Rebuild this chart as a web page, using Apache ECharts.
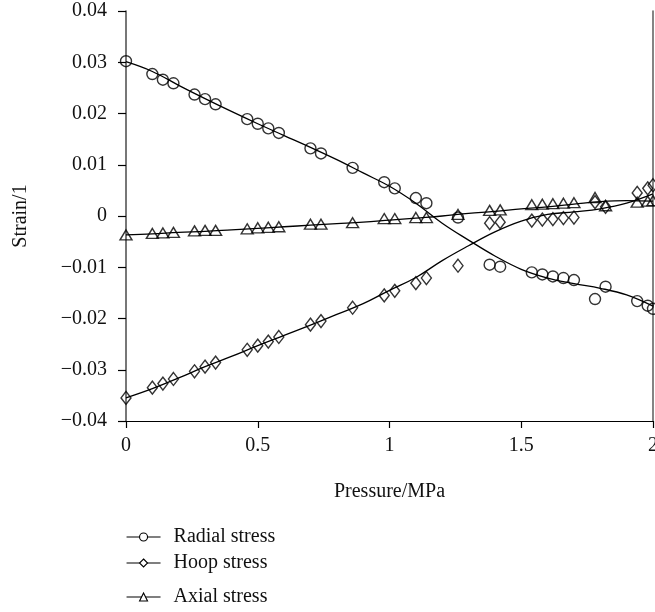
<!DOCTYPE html>
<html>
<head>
<meta charset="utf-8">
<script src="https://cdn.jsdelivr.net/npm/echarts@6/dist/echarts.min.js"></script>
<style>html,body{margin:0;padding:0;background:#fff;}#c{width:655px;height:612px;}</style>
</head>
<body>
<div id="c"></div>
<script>
// Measured points
const pressure = [0, 0.10, 0.14, 0.18, 0.26, 0.30, 0.34, 0.46, 0.50, 0.54, 0.58, 0.70, 0.74, 0.86, 0.98, 1.02, 1.10, 1.14, 1.26, 1.38, 1.42, 1.54, 1.58, 1.62, 1.66, 1.70, 1.78, 1.82, 1.94, 1.98, 2.00];
const radial = [0.0302, 0.0277, 0.0266, 0.0259, 0.0237, 0.0228, 0.0218, 0.0189, 0.0180, 0.0171, 0.0162, 0.0132, 0.0122, 0.0094, 0.0066, 0.0054, 0.0035, 0.0025, -0.0003, -0.0095, -0.0099, -0.0110, -0.0114, -0.0118, -0.0121, -0.0125, -0.0162, -0.0138, -0.0166, -0.0175, -0.0181];
const hoop = [-0.0355, -0.0335, -0.0327, -0.0318, -0.0303, -0.0294, -0.0286, -0.0261, -0.0253, -0.0245, -0.0236, -0.0212, -0.0205, -0.0179, -0.0155, -0.0146, -0.0131, -0.0121, -0.0097, -0.0014, -0.0012, -0.0009, -0.0007, -0.0006, -0.0004, -0.0003, 0.0027, 0.0018, 0.0045, 0.0054, 0.0060];
const axial = [-0.0037, -0.0034, -0.0033, -0.0032, -0.0029, -0.0028, -0.0028, -0.0025, -0.0023, -0.0022, -0.0021, -0.0016, -0.0016, -0.0013, -0.0005, -0.0005, -0.0003, -0.0003, 0.0003, 0.0011, 0.0012, 0.0022, 0.0023, 0.0024, 0.0025, 0.0026, 0.0036, 0.0020, 0.0027, 0.0029, 0.0030];

// Fitted curves
const curveX = [0, 0.1, 0.2, 0.3, 0.4, 0.5, 0.6, 0.7, 0.8, 0.9, 1.0, 1.1, 1.2, 1.3, 1.4, 1.5, 1.6, 1.7, 1.8, 1.9, 2.0];
const radialFit = [0.0301, 0.0282, 0.0255, 0.0229, 0.0204, 0.0180, 0.0157, 0.0134, 0.0110, 0.0084, 0.0058, 0.0025, -0.0014, -0.0047, -0.0078, -0.0104, -0.0121, -0.0132, -0.0141, -0.0154, -0.0176];
const hoopFit = [-0.0355, -0.0337, -0.0316, -0.0294, -0.0274, -0.0253, -0.0233, -0.0213, -0.0192, -0.0171, -0.0145, -0.0120, -0.0087, -0.0058, -0.0031, -0.0010, 0.0003, 0.0008, 0.0014, 0.0025, 0.0043];
const axialFit = [-0.0037, -0.0035, -0.0032, -0.0030, -0.0027, -0.0024, -0.0021, -0.0018, -0.0015, -0.0012, -0.0008, -0.0004, 0.0000, 0.0005, 0.0009, 0.0014, 0.0018, 0.0023, 0.0028, 0.0030, 0.0029];

const seriesNames = ['Radial stress', 'Hoop stress', 'Axial stress'];
const xTickLabels = ['0', '0.5', '1', '1.5', '2'];
const yTickLabels = ['\u22120.04', '\u22120.03', '\u22120.02', '\u22120.01', '0', '0.01', '0.02', '0.03', '0.04'];

const FONT = 'Liberation Serif';
const FS = 20;
const pair = (xs, ys) => xs.map((x, i) => [x, ys[i]]);

const markerStyle = { color: 'rgba(0,0,0,0)', borderColor: '#000', borderWidth: 1.4 };
function fitSeries(name, sym, ys) {
  return {
    type: 'line', name: name, data: pair(curveX, ys), smooth: 0.4,
    symbol: sym, showSymbol: false, silent: true, z: 2,
    lineStyle: { color: '#000', width: 1.3 },
    itemStyle: { color: '#fff', borderColor: '#000', borderWidth: 1 }
  };
}
function markSeries(name, sym, size, ys) {
  return {
    type: 'scatter', name: name + ' pts', data: pair(pressure, ys),
    symbol: sym, symbolSize: size, itemStyle: markerStyle, z: 3
  };
}
function legendFor(name, top) {
  return {
    data: [name], left: 126, top: top, orient: 'vertical', padding: 0,
    itemWidth: 34, itemHeight: 10, selectedMode: false,
    textStyle: { fontFamily: FONT, fontSize: FS, color: '#111', padding: [0, 0, 0, 8] },
    itemStyle: { color: '#fff', borderColor: '#000', borderWidth: 1.1 },
    lineStyle: { color: '#000', width: 1.1 }
  };
}

const chart = echarts.init(document.getElementById('c'), null, { renderer: 'canvas' });
chart.setOption({
  animation: false,
  backgroundColor: '#fff',
  grid: { left: 126, right: 2, top: 11, bottom: 191, containLabel: false, outerBoundsMode: 'none' },
  legend: [legendFor(seriesNames[0], 527), legendFor(seriesNames[1], 553), legendFor(seriesNames[2], 587)],
  xAxis: {
    type: 'value', min: 0, max: 2, interval: 0.5,
    name: 'Pressure/MPa', nameLocation: 'middle', nameGap: 61,
    nameTextStyle: { fontFamily: FONT, fontSize: FS, color: '#111' },
    axisLine: { onZero: false, lineStyle: { color: '#000', width: 1.2 } },
    axisTick: { show: true, length: 7, lineStyle: { color: '#000', width: 1.2 } },
    axisLabel: { margin: 15, fontFamily: FONT, fontSize: FS, color: '#111',
      formatter: v => xTickLabels[Math.round(v * 2)] },
    splitLine: { show: false }
  },
  yAxis: [{
    type: 'value', min: -0.04, max: 0.04, interval: 0.01,
    name: 'Strain/1', nameLocation: 'middle', nameGap: 95, nameRotate: 90,
    nameTextStyle: { fontFamily: FONT, fontSize: FS, color: '#111' },
    axisLine: { show: true, onZero: false, lineStyle: { color: '#555', width: 1.6 } },
    axisTick: { show: true, length: 8, lineStyle: { color: '#000', width: 1.2 } },
    axisLabel: { margin: 19, fontFamily: FONT, fontSize: FS, color: '#111',
      formatter: v => yTickLabels[Math.round(v * 100) + 4] },
    splitLine: { show: false }
  }, {
    type: 'value', min: -0.04, max: 0.04, position: 'right',
    axisLine: { show: true, onZero: false, lineStyle: { color: '#666', width: 1.6 } },
    axisTick: { show: false }, axisLabel: { show: false }, splitLine: { show: false }
  }],
  series: [
    fitSeries(seriesNames[0], 'circle', radialFit),
    fitSeries(seriesNames[1], 'diamond', hoopFit),
    fitSeries(seriesNames[2], 'triangle', axialFit),
    markSeries(seriesNames[0], 'circle', 11, radial),
    markSeries(seriesNames[1], 'diamond', [10, 13], hoop),
    markSeries(seriesNames[2], 'triangle', [12, 10], axial)
  ]
});
</script>
</body>
</html>
